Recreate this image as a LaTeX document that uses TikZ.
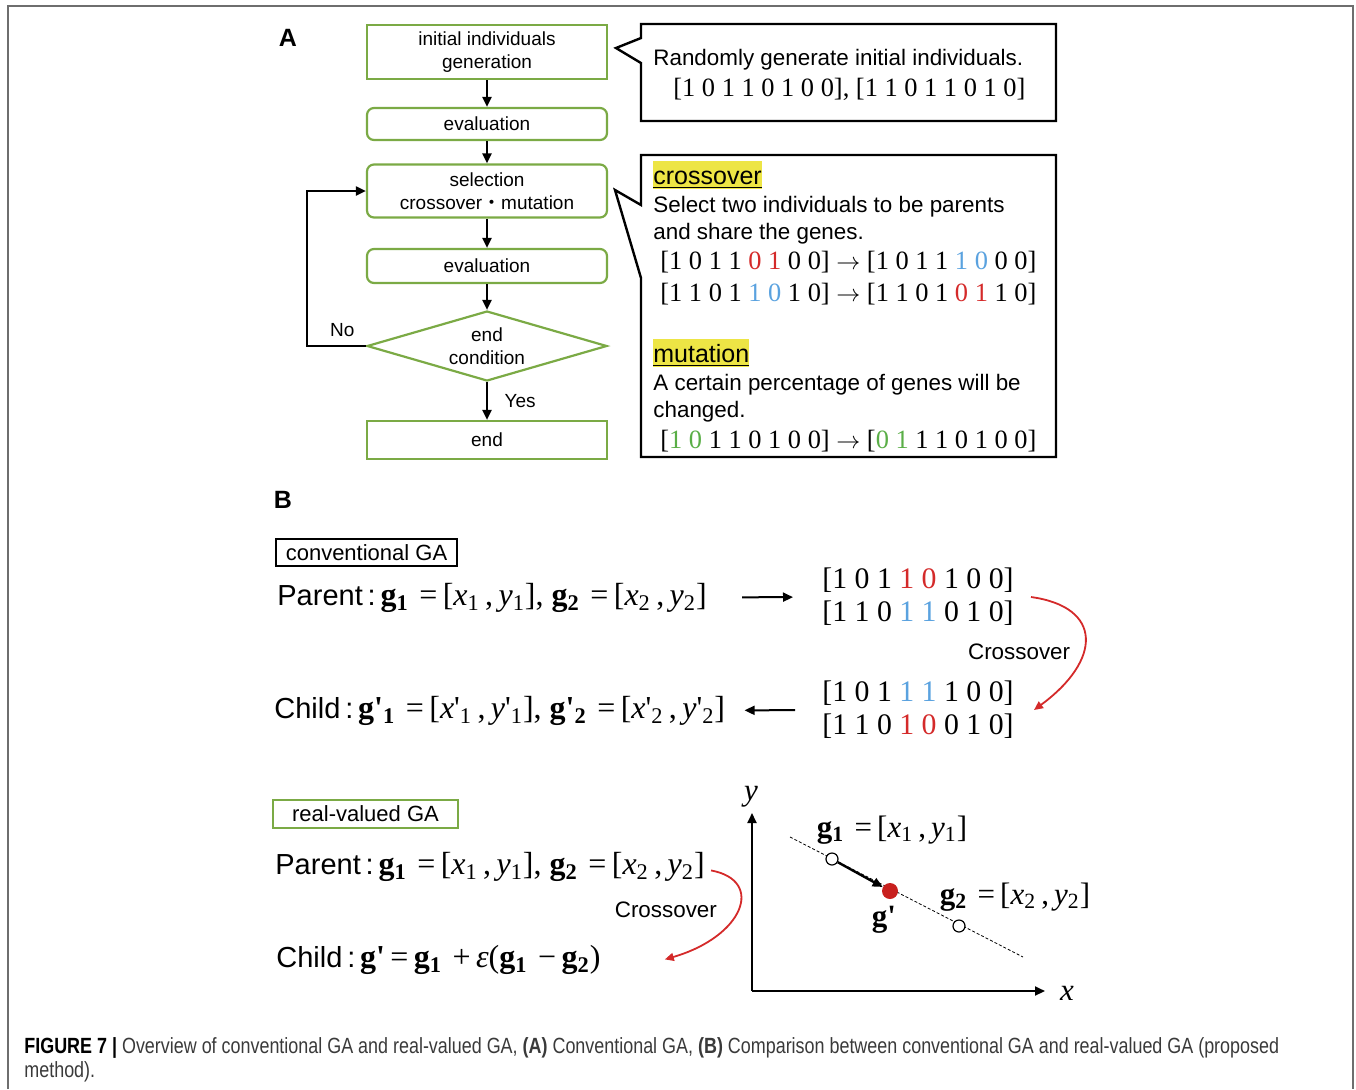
\documentclass[tikz,border=0pt]{standalone}
\usepackage[no-math]{fontspec}
\setmainfont{Liberation Sans}
\newfontfamily\bitfont{Liberation Serif}
\newfontfamily\cjk{Noto Sans CJK JP}
\newfontfamily\capfont[FakeStretch=0.815]{Liberation Sans}
\usetikzlibrary{arrows.meta,shapes.geometric,positioning}
\definecolor{flowgreen}{HTML}{7BAA45}
\definecolor{bitred}{HTML}{D42A2A}
\definecolor{bitblue}{HTML}{5AA2DF}
\definecolor{bitgreen}{HTML}{5AAE47}
\definecolor{hlyellow}{HTML}{EDE545}
\definecolor{dotred}{HTML}{C8201E}
\definecolor{capgray}{HTML}{3A3A3A}
\definecolor{framegray}{HTML}{6E6E6E}
\newcommand{\bitR}[1]{\textcolor{bitred}{#1}}
\newcommand{\bitB}[1]{\textcolor{bitblue}{#1}}
\newcommand{\bitG}[1]{\textcolor{bitgreen}{#1}}
% gene vectors, set in the serif face
\newcommand{\gsub}[1]{\textbf{g}\textsubscript{\textbf{#1}}}
\newcommand{\gpr}{\textbf{g\textquotesingle}}
\newcommand{\vsub}[2]{\textit{#1}\textsubscript{#2}}
\newcommand{\vpr}[2]{\textit{#1}\textquotesingle\textsubscript{#2}}
\newcommand{\eqsign}{\,\,=\,}
\newcommand{\gpair}[1]{\gsub{#1}\eqsign[\vsub{x}{#1}\,,\,\vsub{y}{#1}]}
\newcommand{\gprpair}[1]{\gpr\textsubscript{\textbf{#1}}\eqsign[\vpr{x}{#1}\,,\,\vpr{y}{#1}]}
\tikzset{
  flowbox/.style={draw=flowgreen,line width=1.1pt,minimum width=120pt,inner sep=0pt,
    align=center,font=\fontsize{9.5}{11.5}\selectfont},
  roundbox/.style={flowbox,rounded corners=3.5pt},
  arr/.style={-{Triangle[length=5pt,width=4.5pt]},line width=1pt},
  redarr/.style={-{Triangle[length=4.5pt,width=4pt]},line width=0.9pt,bitred},
  callout/.style={line width=1.2pt},
  txt/.style={anchor=base west,inner sep=0pt,font=\fontsize{11.2}{13}\selectfont},
  hl/.style={anchor=base west,inner sep=0pt,fill=hlyellow,text height=11.5pt,text depth=2.5pt,
    font=\fontsize{12.5}{14}\selectfont},
  bittxt/.style={anchor=base west,inner sep=0pt,font=\bitfont\fontsize{13.2}{15}\selectfont},
  bigbits/.style={anchor=west,inner sep=0pt,align=left,font=\bitfont\fontsize{14.9}{16.5}\selectfont},
  eqn/.style={anchor=base west,inner sep=0pt,font=\fontsize{14.5}{16}\selectfont},
  vec/.style={inner sep=0pt,font=\bitfont\fontsize{15.5}{17}\selectfont},
  panel/.style={inner sep=0pt,font=\bfseries\fontsize{12.5}{14}\selectfont},
  opendot/.style={circle,draw,fill=white,line width=0.6pt,minimum size=6pt,inner sep=0pt},
  reddot/.style={circle,fill=dotred,minimum size=8pt,inner sep=0pt}
}
\begin{document}
\begin{tikzpicture}[x=0.5pt,y=-0.5pt]
\useasboundingbox (0,0) rectangle (1356,1089);
% frame
\draw[framegray,line width=1pt] (8,1089) -- (8,6) -- (1353,6) -- (1353,1089);

% (A) flow chart
\node[panel] (labA) at (288,38) {A};
\node[flowbox,minimum height=27pt] (init) at (487,52) {initial individuals\\generation};
\node[roundbox,minimum height=16pt] (eval1) at (487,124) {evaluation};
\node[roundbox,minimum height=26.5pt] (sel) at (487,191) {selection\\crossover{\cjk ・}mutation};
\node[roundbox,minimum height=17pt] (eval2) at (487,266) {evaluation};
\node[draw=flowgreen,line width=1.1pt,diamond,shape aspect=3.4,inner sep=0pt,
  minimum width=120pt,minimum height=35pt,align=center,
  font=\fontsize{9.5}{11.5}\selectfont] (cond) at (487,346) {end\\condition};
\node[flowbox,minimum height=19pt] (fin) at (487,440) {end};

\draw[arr] (init) -- (eval1);
\draw[arr] (eval1) -- (sel);
\draw[arr] (sel) -- (eval2);
\draw[arr] (eval2) -- (cond);
\draw[arr] (cond) -- node[right=5pt,font=\fontsize{9.5}{11}\selectfont]{Yes} (fin);
\draw[arr] (cond.west) -- node[above=1pt,pos=0.4,font=\fontsize{9.5}{11}\selectfont]{No} ++(-59,0) |- (sel.west);

% callouts
\draw[callout] (641,24) -- (1056,24) -- (1056,121) -- (641,121) -- (641,63) -- (616,48) -- (641,38) -- cycle;
\node[txt] (rnd) at (653,65) {Randomly generate initial individuals.};
\node[bittxt] (rndbits) at (673,96) {[1 0 1 1 0 1 0 0], [1 1 0 1 1 0 1 0]};

\draw[callout] (641,155) -- (1056,155) -- (1056,457) -- (641,457) -- (641,278) -- (615,190) -- (641,205) -- cycle;
\node[hl] (cxhead) at (653,184) {\underline{crossover}};
\node[txt] (cxtxt1) at (653,212) {Select two individuals to be parents};
\node[txt] (cxtxt2) at (653,239) {and share the genes.};
\node[bittxt] (cxbits1) at (660,269) {[1 0 1 1 \bitR{0 1} 0 0] $\rightarrow$ [1 0 1 1 \bitB{1 0} 0 0]};
\node[bittxt] (cxbits2) at (660,301) {[1 1 0 1 \bitB{1 0} 1 0] $\rightarrow$ [1 1 0 1 \bitR{0 1} 1 0]};
\node[hl] (muhead) at (653,362) {\underline{mutation}};
\node[txt] (mutxt1) at (653,390) {A certain percentage of genes will be};
\node[txt] (mutxt2) at (653,417) {changed.};
\node[bittxt] (mubits) at (660,448) {[\bitG{1 0} 1 1 0 1 0 0] $\rightarrow$ [\bitG{0 1} 1 1 0 1 0 0]};

% (B) conventional GA
\node[panel] (labB) at (283,500) {B};
\node[draw,line width=0.6pt,minimum width=90.5pt,minimum height=13.5pt,inner sep=0pt,
  font=\fontsize{11}{13}\selectfont] (convbox) at (366.5,552.5) {conventional GA};
\node[eqn] (par1) at (277,605) {Parent\,:\,{\bitfont\fontsize{16}{18}\selectfont
  \gpair{1},\ \gpair{2}}};
\node[eqn] (chi1) at (274,718) {Child\,:\,{\bitfont\fontsize{16}{18}\selectfont
  \gprpair{1},\ \gprpair{2}}};
\node[bigbits] (parbits) at (822,597) {[1 0 1 \bitR{1 0} 1 0 0]\\{}[1 1 0 \bitB{1 1} 0 1 0]};
\node[bigbits] (chibits) at (822,710) {[1 0 1 \bitB{1 1} 1 0 0]\\{}[1 1 0 \bitR{1 0} 0 1 0]};
\draw[arr,shorten <=17.5pt,shorten >=14.5pt] (par1.east) -- (parbits.west);
\draw[arr,shorten <=13.5pt,shorten >=9.5pt] (chibits.west) -- (chi1.east);
\draw[redarr] ([xshift=8.5pt]parbits.east) .. controls +(72,10) and +(68,-50) ..
  node[pos=0.6,left=6pt,inner sep=0pt,black,font=\fontsize{11.2}{13}\selectfont]{Crossover} ([xshift=10pt]chibits.east);

% (B) real-valued GA
\node[draw=flowgreen,line width=0.6pt,minimum width=92.5pt,minimum height=14pt,inner sep=0pt,
  font=\fontsize{11}{13}\selectfont] (realbox) at (365.5,814) {real-valued GA};
\node[eqn] (par2) at (275,874) {Parent\,:\,{\bitfont\fontsize{16}{18}\selectfont
  \gpair{1},\ \gpair{2}}};
\node[eqn] (chi2) at (276,967) {Child\,:\,{\bitfont\fontsize{16}{18}\selectfont
  \gpr\,=\,\gsub{1}\,\,+\,\textit{ε}(\gsub{1}\,\,−\,\gsub{2})}};
\draw[redarr] ([xshift=3pt,yshift=-2pt]par2.east) .. controls +(54,10) and +(79,-23) ..
  node[left=10pt,inner sep=0pt,black,font=\fontsize{11.2}{13}\selectfont]{Crossover} ([xshift=32pt]chi2.east);

% plot
\coordinate (orig) at (752,991);
\coordinate (ytip) at (752,813);
\coordinate (xtip) at (1045,991);
\draw[arr] (orig) -- (ytip);
\draw[arr] (orig) -- (xtip);
\node[vec] (ylab) at (751,797) {\textit{y}};
\node[vec] (xlab) at (1067,993) {\textit{x}};
\coordinate (ln1) at (790,837);
\coordinate (ln2) at (1023,957);
\draw[line width=0.4pt,dash pattern=on 1.5pt off 1pt] (ln1) -- (ln2);
\node[opendot] (pt1) at (832,859) {};
\node[reddot] (ptc) at (890,891) {};
\node[opendot] (pt2) at (959,926) {};
\draw[-{Triangle[length=5pt,width=4.5pt]},line width=1.2pt] (pt1) -- (ptc);
\node[vec] (g1lab) at (892,830) {\gpair{1}};
\node[vec] (g2lab) at (1015,897) {\gpair{2}};
\node[vec] (gclab) at (884,920) {\gpr};

% caption
\node[anchor=base west,inner sep=0pt,capgray,font=\capfont\fontsize{11}{13}\selectfont] (cap1) at (24,1053)
  {\textcolor{black}{\textbf{FIGURE 7 |}} Overview of conventional GA and real-valued GA, \textbf{(A)} Conventional GA, \textbf{(B)} Comparison between conventional GA and real-valued GA (proposed};
\node[anchor=base west,inner sep=0pt,capgray,font=\capfont\fontsize{11}{13}\selectfont] (cap2) at (24,1077) {method).};
\end{tikzpicture}
\end{document}
